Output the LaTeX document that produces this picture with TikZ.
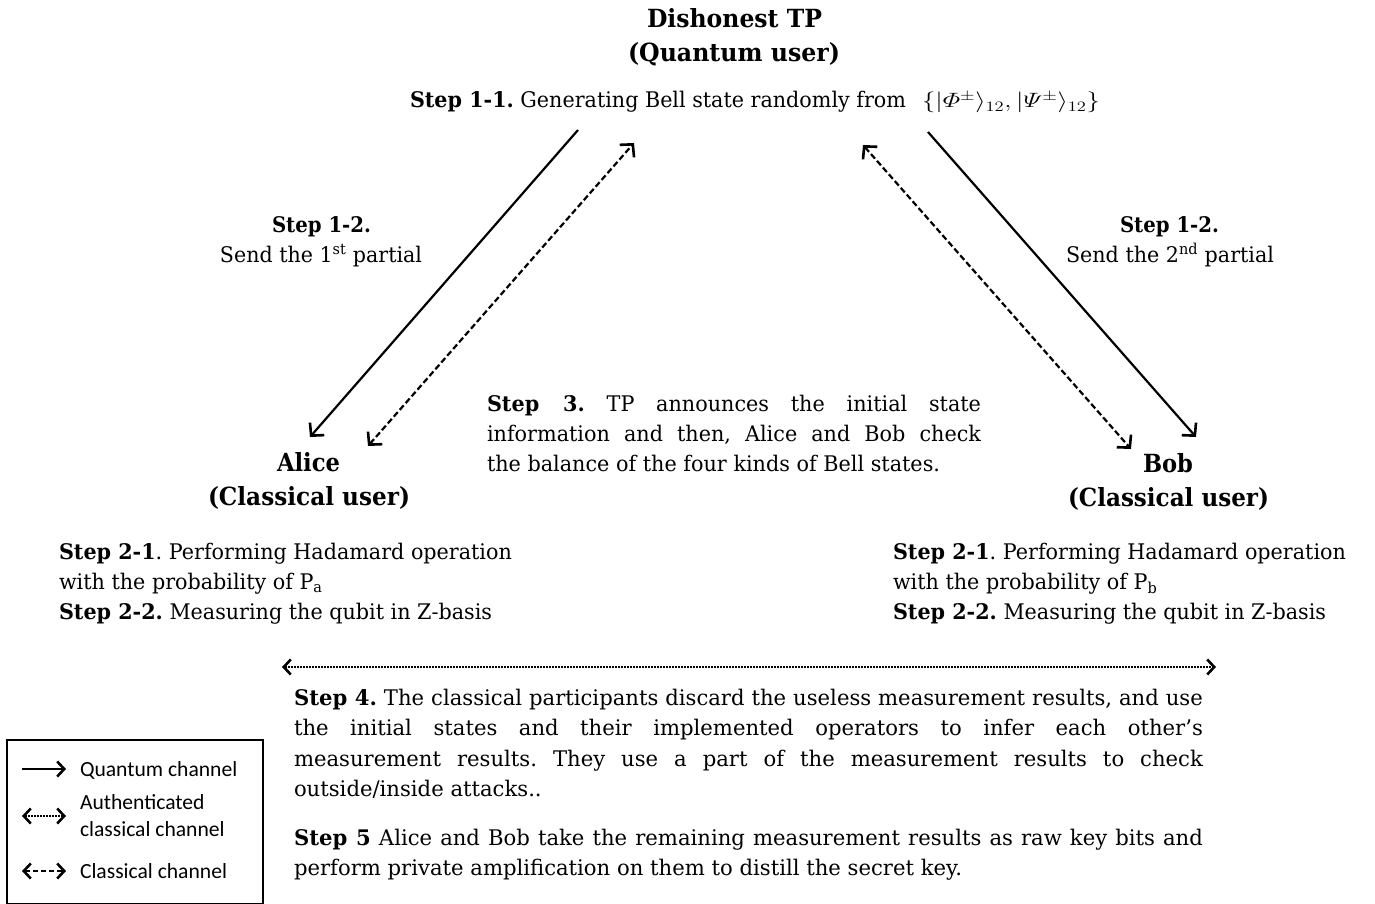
\documentclass[tikz,border=0pt]{standalone}
\usepackage[no-math]{fontspec}
\usepackage{amsmath}
\usepackage{graphicx}
\setmainfont{DejaVu Serif}
\newfontfamily\legendfont{Carlito}
\usetikzlibrary{arrows.meta}
\frenchspacing
\newsavebox\mybox
\newcommand\fitw[2]{\sbox\mybox{#2}\resizebox{#1}{\ht\mybox}{\usebox\mybox}}
\newcommand\getsx[3]{\sbox\mybox{#3}\pgfmathsetmacro#1{#2/\the\wd\mybox}}
\newcommand\jfit[3]{\pgfmathsetlengthmacro\jw{#2/#1}\scalebox{#1}[1]{\makebox[\jw][s]{#3}}}
\newcommand\nfit[2]{\scalebox{#1}[1]{#2}}
\newcommand\bodyf{\fontsize{21.5}{30}\selectfont}
\newcommand\headf{\fontsize{25}{34}\selectfont\bfseries}
\begin{document}
\getsx{\sxA}{453}{\bodyf the balance of the four kinds of Bell states.}%
\getsx{\sxB}{433}{\bodyf\textbf{Step 2-2.} Measuring the qubit in Z-basis}%
\getsx{\sxC}{668}{\bodyf perform private amplification on them to distill the secret key.}%
\begin{tikzpicture}[x=1pt,y=-1pt,
  txt/.style={inner sep=0pt,outer sep=0pt,font=\bodyf},
  hd/.style={inner sep=0pt,outer sep=0pt,font=\headf},
  tip/.style={-{Straight Barb[length=9pt,width=19pt,line width=2.6pt]}},
  bitip/.style={{Straight Barb[length=9pt,width=19pt,line width=2.6pt]}-{Straight Barb[length=9pt,width=19pt,line width=2.6pt]}},
  stip/.style={-{Straight Barb[length=7pt,width=15pt,line width=2.6pt]}},
  sbitip/.style={{Straight Barb[length=7pt,width=15pt,line width=2.6pt]}-{Straight Barb[length=7pt,width=15pt,line width=2.6pt]}},
  qline/.style={line width=2.2pt,tip},
  cline/.style={line width=2.2pt,dash pattern=on 6pt off 3pt,bitip},
  aline/.style={line width=2.2pt,dash pattern=on 1.6pt off 1.4pt,sbitip},
  legq/.style={line width=2.2pt,stip},
  legc/.style={line width=2.2pt,dash pattern=on 5pt off 3pt,sbitip},
  legtxt/.style={inner sep=0pt,outer sep=0pt,font=\legendfont\fontsize{21.6}{26}\selectfont}]
\useasboundingbox (0,0) rectangle (1375,904);

% TP
\node[hd,anchor=base] (tp1) at (734.5,28) {\fitw{175pt}{Dishonest TP}};
\node[hd,anchor=base] (tp2) at (734,62) {\fitw{212pt}{(Quantum user)}};
\node[txt,anchor=base west] (s11) at (410,108) {\fitw{496pt}{\textbf{Step 1-1.} Generating Bell state randomly from}};
\node[txt,anchor=base west] (s11m) at (922,108) {\fitw{178pt}{$\{|\varPhi^{\pm}\rangle_{12},|\varPsi^{\pm}\rangle_{12}\}$}};

% Step 1-2 labels
\node[txt,anchor=base] (s12la) at (321.5,232) {\fitw{99pt}{\textbf{Step 1-2.}}};
\node[txt,anchor=base] (s12lb) at (321,262) {\fitw{202pt}{Send the 1\textsuperscript{st} partial}};
\node[txt,anchor=base] (s12ra) at (1169.5,232) {\fitw{99pt}{\textbf{Step 1-2.}}};
\node[txt,anchor=base] (s12rb) at (1170,262) {\fitw{208pt}{Send the 2\textsuperscript{nd} partial}};

% Alice and Bob
\node[hd,anchor=base] (al1) at (308.5,471) {\fitw{63pt}{Alice}};
\node[hd,anchor=base] (al2) at (309,505) {\fitw{202pt}{(Classical user)}};
\node[hd,anchor=base] (bo1) at (1168,472) {\fitw{50pt}{Bob}};
\node[hd,anchor=base] (bo2) at (1168.5,506) {\fitw{201pt}{(Classical user)}};

% Step 3
\node[txt,anchor=base west] (s3a) at (487,411) {\jfit{\sxA}{494}{\textbf{Step 3.} TP announces the initial state}};
\node[txt,anchor=base west] (s3b) at (487,441) {\jfit{\sxA}{494}{information and then, Alice and Bob check}};
\node[txt,anchor=base west] (s3c) at (487,471) {\nfit{\sxA}{the balance of the four kinds of Bell states.}};

% Step 2 left
\node[txt,anchor=base west] (s2la) at (59,559) {\nfit{\sxB}{\textbf{Step 2-1}. Performing Hadamard operation}};
\node[txt,anchor=base west] (s2lb) at (59,589) {\nfit{\sxB}{with the probability of P\textsubscript{a}}};
\node[txt,anchor=base west] (s2lc) at (59,619) {\nfit{\sxB}{\textbf{Step 2-2.} Measuring the qubit in Z-basis}};
% Step 2 right
\node[txt,anchor=base west] (s2ra) at (893,559) {\nfit{\sxB}{\textbf{Step 2-1}. Performing Hadamard operation}};
\node[txt,anchor=base west] (s2rb) at (893,589) {\nfit{\sxB}{with the probability of P\textsubscript{b}}};
\node[txt,anchor=base west] (s2rc) at (893,619) {\nfit{\sxB}{\textbf{Step 2-2.} Measuring the qubit in Z-basis}};

% Step 4 and 5
\node[txt,anchor=base west] (s4a) at (294,705) {\jfit{\sxC}{909}{\textbf{Step 4.} The classical participants discard the useless measurement results, and use}};
\node[txt,anchor=base west] (s4b) at (294,735) {\jfit{\sxC}{909}{the initial states and their implemented operators to infer each other’s}};
\node[txt,anchor=base west] (s4c) at (294,766) {\jfit{\sxC}{909}{measurement results. They use a part of the measurement results to check}};
\node[txt,anchor=base west] (s4d) at (294,796) {\nfit{\sxC}{outside/inside attacks..}};
\node[txt,anchor=base west] (s5a) at (294,845) {\jfit{\sxC}{909}{\textbf{Step 5} Alice and Bob take the remaining measurement results as raw key bits and}};
\node[txt,anchor=base west] (s5b) at (294,875) {\nfit{\sxC}{perform private amplification on them to distill the secret key.}};

% connectors
\coordinate (aq1) at (578,130); \coordinate (aq2) at (310,437);
\coordinate (ac1) at (368,446); \coordinate (ac2) at (634,143);
\coordinate (bc1) at (863,145); \coordinate (bc2) at (1131,449);
\coordinate (bq1) at (928,132); \coordinate (bq2) at (1196,437);
\coordinate (d1) at (282,667); \coordinate (d2) at (1216,667);
\draw[qline] (aq1) -- (aq2);
\draw[cline] (ac1) -- (ac2);
\draw[cline] (bc1) -- (bc2);
\draw[qline] (bq1) -- (bq2);
\draw[aline] (d1) -- (d2);

% legend
\node[draw,line width=2pt,inner sep=0pt,minimum width=256pt,minimum height=164pt,anchor=north west] (leg) at (6,739) {};
\coordinate (l1a) at (22,769); \coordinate (l1b) at (66,769);
\coordinate (l2a) at (22,816); \coordinate (l2b) at (66,816);
\coordinate (l3a) at (22,871); \coordinate (l3b) at (66,871);
\draw[legq] (l1a) -- (l1b);
\draw[aline] (l2a) -- (l2b);
\draw[legc] (l3a) -- (l3b);
\node[legtxt,anchor=base west] (lt1) at (80,776) {Quantum channel};
\node[legtxt,anchor=base west] (lt2) at (80,809) {Authenticated};
\node[legtxt,anchor=base west] (lt3) at (80,836) {classical channel};
\node[legtxt,anchor=base west] (lt4) at (80,878) {Classical channel};
\end{tikzpicture}
\end{document}
